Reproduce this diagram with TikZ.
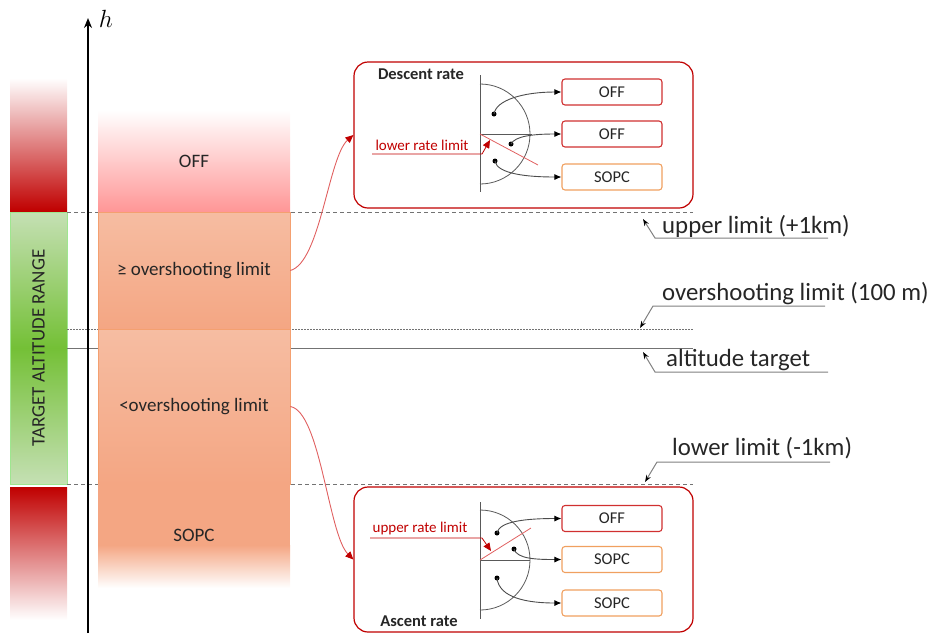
\documentclass[tikz,border=0pt]{standalone}
\usepackage{fontspec}
\setmainfont{Carlito}
\usetikzlibrary{arrows.meta}
\definecolor{dred}{HTML}{C00000}
\definecolor{offpink}{HTML}{FF9696}
\definecolor{orA}{HTML}{F6BDA2}
\definecolor{orB}{HTML}{F4A683}
\definecolor{orline}{HTML}{F4A070}
\definecolor{grA}{HTML}{C5E0B4}
\definecolor{grB}{HTML}{74C036}
\definecolor{boxred}{HTML}{D03030}
\definecolor{boxorange}{HTML}{F0A060}
\definecolor{thinred}{HTML}{E06060}
\definecolor{lgray}{HTML}{808080}
\tikzset{
  colfont/.style={font=\fontsize{19}{22}\selectfont},
  labfont/.style={font=\fontsize{24.8}{28}\selectfont},
  colseg/.style={colfont, minimum width=192, inner sep=0, text=black!85},
  bigbox/.style={draw=dred, line width=1.2pt, rounded corners=14, minimum width=339, inner sep=0},
  sbox/.style={line width=1.1pt, rounded corners=3, minimum width=100, minimum height=26, inner sep=0, font=\fontsize{16.5}{19}\selectfont, text=black!85},
  boldlab/.style={font=\bfseries\fontsize{16.5}{19}\selectfont, text=black!85, inner sep=0},
  redlab/.style={font=\fontsize{15}{18}\selectfont, text=dred, inner sep=0},
  semiline/.style={draw=black!65, line width=0.8pt},
  inconn/.style={draw=black!70, line width=0.9pt, -{Latex[length=7pt,width=6pt,color=black]}},
  dotm/.style={circle, fill=black, inner sep=0, minimum size=5},
  redarrow/.style={draw=dred, line width=0.8pt, -{Triangle[length=8pt,width=7pt]}},
  bigconn/.style={draw=thinred, line width=0.9pt, -{Triangle[length=8pt,width=7pt,color=dred]}},
  leader/.style={draw=lgray, line width=1pt, -{Stealth[length=7pt,width=5pt,color=black]}},
  dashln/.style={draw=black!55, line width=0.9pt, dash pattern=on 4pt off 3pt},
  dotln/.style={draw=black!55, line width=0.7pt, dash pattern=on 1.5pt off 1.5pt},
}
\begin{document}
\begin{tikzpicture}[x=1pt,y=-1pt]
\useasboundingbox (0,0) rectangle (931,633);

% left bar
\path[top color=white, bottom color=dred] (10,78) rectangle (67,211);
\path[draw=grA!80!green, line width=0.8pt, top color=grA, bottom color=grA, middle color=grB] (10,212) rectangle (67,484);
\node[rotate=90, colfont, text=black!85] (tar) at (38.5,348) {TARGET ALTITUDE RANGE};
\path[top color=dred, bottom color=white] (10,487) rectangle (67,620);

% reference lines
\draw[dashln] (67,212) -- (693,212);
\draw[dotln] (67,329) -- (693,329);
\draw[draw=black!55, line width=0.9pt] (67,348) -- (693,348);
\draw[dashln] (67,484) -- (693,484);

% column
\node[colseg, minimum height=102, top color=white, bottom color=offpink] (off) at (194,161) {OFF};
\draw[draw=thinred, line width=1pt] (off.south west) -- (off.south east);
\node[colseg, minimum height=117, top color=orA, bottom color=orB, draw=orline, line width=0.6pt] (ovr) at (194,270.5) {≥ overshooting limit};
\node[colseg, minimum height=155, top color=orA, bottom color=orB, draw=orline, line width=0.6pt] (und) at (194,406.5) {<overshooting limit};
\path[fill=orB] (98,484) rectangle (290,545);
\path[top color=orB, bottom color=white] (98,545) rectangle (290,588);
\node[colseg] (sopc) at (194,535) {SOPC};

% axis
\draw[line width=1.6pt, -{Stealth[length=10pt,width=8pt]}] (88,633) -- (88,18);
\node[font=\fontsize{28}{30}\selectfont] (hl) at (106,19) {$h$};

% top box
\node[bigbox, minimum height=146] (desc) at (523.5,135) {};
\node[boldlab] (desct) at (421,74) {Descent rate};
\node[sbox, draw=boxred] (o1) at (612,92) {OFF};
\node[sbox, draw=boxred] (o2) at (612,134) {OFF};
\node[sbox, draw=boxorange] (s1) at (612,177) {SOPC};
\draw[semiline] (480,75) -- (480,192);
\draw[semiline] (480,84) arc[start angle=-90, end angle=90, radius=50];
\draw[semiline] (480,134) -- (532,134);
\draw[draw=thinred, line width=0.8pt] (480,134) -- (538,165);
\node[dotm] (d1) at (494,114) {};
\node[dotm] (d2) at (511,144) {};
\node[dotm] (d3) at (495,161) {};
\draw[inconn] (d1.center) .. controls +(2,-14) and +(-38,0) .. (o1.west);
\draw[inconn] (d2.center) .. controls +(4,-8) and +(-28,0) .. (o2.west);
\draw[inconn] (d3.center) .. controls +(2,13) and +(-34,0) .. (s1.west);
\node[redlab] (lrl) at (422,145) {lower rate limit};
\coordinate (lr1) at (372,154);
\coordinate (lr2) at (482,154);
\coordinate (lr3) at (490,140);
\draw[redarrow] (lr1) -- (lr2) -- (lr3);

% bottom box
\node[bigbox, minimum height=145] (asc) at (523.5,559.5) {};
\node[boldlab] (asct) at (419,621) {Ascent rate};
\node[sbox, draw=boxred] (o3) at (612,518.5) {OFF};
\node[sbox, draw=boxorange] (s2) at (612,559.5) {SOPC};
\node[sbox, draw=boxorange] (s3) at (612,603) {SOPC};
\draw[semiline] (480,502) -- (480,619);
\draw[semiline] (480,510) arc[start angle=-90, end angle=90, radius=50];
\draw[semiline] (480,560) -- (530,560);
\draw[draw=thinred, line width=0.8pt] (480,560) -- (531,528);
\node[dotm] (d4) at (497,533) {};
\node[dotm] (d5) at (514,549) {};
\node[dotm] (d6) at (497,578) {};
\draw[inconn] (d4.center) .. controls +(2,-12) and +(-34,0) .. (o3.west);
\draw[inconn] (d5.center) .. controls +(3,10) and +(-25,0) .. (s2.west);
\draw[inconn] (d6.center) .. controls +(2,20) and +(-34,0) .. (s3.west);
\node[redlab] (url) at (420,528) {upper rate limit};
\coordinate (ur1) at (370,538);
\coordinate (ur2) at (482,538);
\coordinate (ur3) at (491,551);
\draw[redarrow] (ur1) -- (ur2) -- (ur3);

% big connectors
\draw[bigconn] (ovr.east) .. controls +(30,-8) and +(-25,22) .. (desc.west);
\draw[bigconn] (und.east) .. controls +(30,5) and +(-25,-25) .. (asc.west);

% right labels
\node[labfont, anchor=base west, inner sep=0, text=black!85] (ul) at (662,233) {upper limit (+1km)};
\coordinate (ul1) at (828,238); \coordinate (ul2) at (655,238); \coordinate (ul3) at (643,219);
\draw[leader] (ul1) -- (ul2) -- (ul3);
\node[labfont, anchor=base west, inner sep=0, text=black!85] (ol) at (662,300) {overshooting limit (100 m)};
\coordinate (ol1) at (825,306); \coordinate (ol2) at (653,306); \coordinate (ol3) at (640,328);
\draw[leader] (ol1) -- (ol2) -- (ol3);
\node[labfont, anchor=base west, inner sep=0, text=black!85] (at) at (666,366.5) {altitude target};
\coordinate (at1) at (828,372); \coordinate (at2) at (655,372); \coordinate (at3) at (643,352);
\draw[leader] (at1) -- (at2) -- (at3);
\node[labfont, anchor=base west, inner sep=0, text=black!85] (ll) at (672,455) {lower limit (-1km)};
\coordinate (ll1) at (830,462); \coordinate (ll2) at (657,462); \coordinate (ll3) at (645,482);
\draw[leader] (ll1) -- (ll2) -- (ll3);
\end{tikzpicture}
\end{document}
